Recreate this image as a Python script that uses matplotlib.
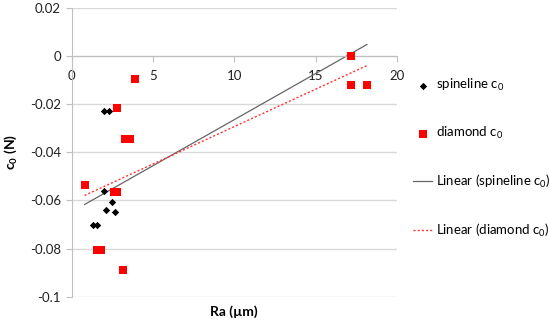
import numpy as np
import matplotlib
matplotlib.use('Agg')
import matplotlib.pyplot as plt

plt.rcParams['font.family'] = ['Lato', 'DejaVu Sans']
plt.rcParams['mathtext.fontset'] = 'custom'
plt.rcParams['mathtext.rm'] = 'Lato'
plt.rcParams['mathtext.bf'] = 'Lato:bold'

# spineline c0 (two points sit hidden under red squares)
spine_ra = [2.0, 2.3, 2.0, 2.5, 2.1, 2.7, 1.3, 1.55, 17.2, 1.7]
spine_c0 = [-0.023, -0.023, -0.056, -0.0605, -0.064, -0.065, -0.070, -0.070, 0.0, -0.0805]

# diamond c0
diam_ra = [3.9, 2.8, 3.3, 3.6, 0.8, 2.6, 2.8, 1.55, 1.8, 3.15, 17.2, 17.2, 18.15]
diam_c0 = [-0.0095, -0.0216, -0.0344, -0.0344, -0.0534, -0.0564, -0.0564,
           -0.0805, -0.0805, -0.089, 0.0, -0.012, -0.012]

grid_col = '#d9d9d9'

fig = plt.figure(figsize=(5.5, 3.27), dpi=100)
ax = fig.add_axes([0.13, 0.0927, 0.5918, 0.8828])

ax.set_xlim(0, 20)
ax.set_ylim(-0.1, 0.02)
ax.set_yticks(np.arange(-0.1, 0.021, 0.02))
ax.set_yticklabels(['-0.1', '-0.08', '-0.06', '-0.04', '-0.02', '0', '0.02'])
ax.set_xticks([0, 5, 10, 15, 20])
ax.set_xticklabels(['0', '5', '10', '15', '20'])
ax.yaxis.grid(True, color=grid_col, lw=1)
ax.set_axisbelow(True)

for s in ['top', 'right']:
    ax.spines[s].set_visible(False)
ax.spines['bottom'].set_position(('data', 0))
ax.spines['bottom'].set_color('#bfbfbf')
ax.spines['left'].set_color('#bfbfbf')
ax.tick_params(axis='both', colors='#bfbfbf', length=4, labelsize=9.5,
               labelcolor='#222222')
ax.tick_params(axis='x', pad=6)

# trendlines over whole Ra range
xr = np.array([min(spine_ra + diam_ra), max(spine_ra + diam_ra)])
k1, b1 = np.polyfit(spine_ra, spine_c0, 1)
k2, b2 = np.polyfit(diam_ra, diam_c0, 1)

ax.scatter(diam_ra, diam_c0, marker='s', s=26, color='#ff0000', linewidths=0,
           zorder=3, label='diamond c$_0$')
ax.scatter(spine_ra[:8], spine_c0[:8], marker='D', s=14, color='black',
           linewidths=0, zorder=4, label='spineline c$_0$')
ax.plot(xr, k1 * xr + b1, color='#666666', lw=0.9, zorder=2,
        label='Linear (spineline c$_0$)')
ax.plot(xr, k2 * xr + b2, color='#ff3333', lw=1, ls=(0, (1.5, 1.5)), zorder=2,
        label='Linear (diamond c$_0$)')

ax.set_ylabel('c$_\\mathbf{0}$ (N)', fontsize=10, fontweight='bold')
ax.yaxis.set_label_coords(-0.16, 0.5)
ax.set_xlabel('Ra (µm)', fontsize=10, fontweight='bold')
ax.xaxis.set_label_coords(0.5, -0.03)

h, l = ax.get_legend_handles_labels()
order = [1, 0, 2, 3]
fig.legend([h[i] for i in order], [l[i] for i in order],
           loc='upper left', bbox_to_anchor=(0.73, 0.80), frameon=False,
           fontsize=9.5, labelspacing=2.4, handlelength=1.4, handletextpad=0.3)

fig.savefig('out.png', dpi=100)
